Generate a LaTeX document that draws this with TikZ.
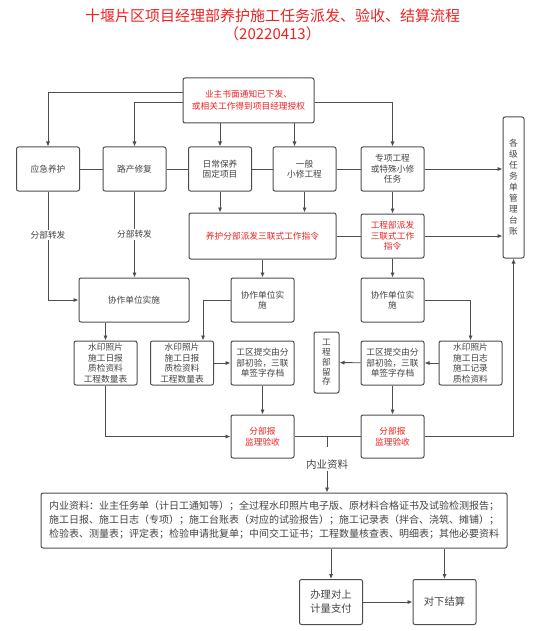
\documentclass[tikz,border=0pt]{standalone}
\usepackage{fontspec}
\setmainfont{Noto Sans CJK SC}
\usetikzlibrary{arrows.meta,positioning,calc}
\definecolor{cRed}{RGB}{238,34,34}
\definecolor{cText}{RGB}{68,68,68}
\definecolor{cLine}{RGB}{78,78,78}
\tikzset{
	fbox/.style={draw=cLine, line width=1pt, rounded corners=2pt,
		fill=white, inner sep=1pt, align=center, text=cText,
		font=\fontsize{8.7}{10.5}\selectfont,
		minimum width=63pt, minimum height=44pt},
	rbox/.style={fbox, text=cRed},
	vbox/.style={fbox, minimum width=21pt,
		font=\fontsize{8.7}{11}\selectfont},
	farr/.style={-{Latex[length=5pt,width=4.2pt]}, line width=0.9pt,
		draw=cLine},
	fline/.style={line width=0.9pt, draw=cLine},
	flabel/.style={fill=white, inner sep=1pt, text=cText,
		font=\fontsize{8.7}{10.5}\selectfont},
}
\begin{document}
\begin{tikzpicture}[x=1pt, y=-1pt]
			\useasboundingbox (0,0) rectangle (537,631);
			\node[text=cRed, align=center, font=\fontsize{15}{18.5}\selectfont] (title) at (272.5,24.8)
				{十堰片区项目经理部养护施工任务派发、验收、结算流程\\（20220413）};
			% top row
			\node[rbox, minimum width=131pt, minimum height=45pt, font=\fontsize{8.7}{11.7}\selectfont] (owner) at (248.5,100.5)
				{业主书面通知已下发、\\或相关工作得到项目经理授权};
			\node[fbox] (yingji) at (48,169) {应急养护};
			\node[fbox] (luchan) at (134.5,169) {路产修复};
			\node[fbox] (richang) at (220,169) {日常保养\\固定项目};
			\node[fbox] (yiban) at (304.5,169) {一般\\小修工程};
			\node[fbox] (zhuanxiang) at (392.5,169) {专项工程\\或特殊小修\\任务};
			\node[vbox, minimum height=141pt] (taizhang) at (513.5,187.5)
				{各\\级\\任\\务\\单\\管\\理\\台\\账};
			% dispatch
			\node[rbox, minimum width=147pt, minimum height=46pt] (yanghu) at (262.5,236) {养护分部派发三联式工作指令};
			\node[rbox] (gcpaifa) at (392.5,236) {工程部派发\\三联式工作\\指令};
			\node[fbox, minimum width=110pt] (xiezuoA) at (134,300) {协作单位实施};
			\node[fbox] (xiezuoB) at (262.5,300) {协作单位实\\施};
			\node[fbox] (xiezuoC) at (392.5,300) {协作单位实\\施};
			% records
			\node[fbox] (shuiyinA) at (105.5,363) {水印照片\\施工日报\\质检资料\\工程数量表};
			\node[fbox] (shuiyinB) at (182,363) {水印照片\\施工日报\\质检资料\\工程数量表};
			\node[fbox] (gongquB) at (262.5,363) {工区提交由分\\部初验，三联\\单签字存档};
			\node[vbox, minimum width=25pt, minimum height=61pt, font=\fontsize{8.7}{9.8}\selectfont] (liucun) at (326.5,362.5)
				{工\\程\\部\\留\\存};
			\node[fbox] (gongquC) at (392.5,363) {工区提交由分\\部初验，三联\\单签字存档};
			\node[fbox] (shuiyinC) at (470.5,363) {水印照片\\施工日志\\施工记录\\质检资料};
			\node[rbox, minimum height=43pt] (fenbuB) at (262.5,436.5) {分部报\\监理验收};
			\node[rbox, minimum height=43pt] (fenbuC) at (392.5,436.5) {分部报\\监理验收};
			% settlement
			\node[flabel, font=\fontsize{10.5}{12}\selectfont] (neiye) at (327,465) {内业资料};
			\node[fbox, align=left, minimum width=466pt, minimum height=55pt, font=\fontsize{10}{14}\selectfont] (ziliao) at (274,520.5)
				{内业资料：业主任务单（计日工通知等）；全过程水印照片电子版、原材料合格证书及试验检测报告；\\
				施工日报、施工日志（专项）；施工台账表（对应的试验报告）；施工记录表（拌合、浇筑、摊铺）；\\
				检验表、测量表；评定表；检验申请批复单；中间交工证书；工程数量核查表、明细表；其他必要资料};
			\node[fbox, minimum height=45pt, font=\fontsize{10.3}{14}\selectfont] (jiliang) at (331,602) {办理对上\\计量支付};
			\node[fbox, minimum height=45pt, font=\fontsize{10.3}{14}\selectfont] (jiesuan) at (444.5,602) {对下结算};
			\coordinate (stub) at (327,447);
			% connectors
			\draw[farr] ([yshift=8.5pt]owner.west) -| (yingji.north);
			\draw[farr] ([yshift=-1.5pt]owner.west) -| (luchan.north);
			\draw[farr] (owner.south -| richang.north) -- (richang.north);
			\draw[farr] ([xshift=-10pt]yiban.north |- owner.south) -- ([xshift=-10pt]yiban.north);
			\draw[farr] ([yshift=-1.5pt]owner.east) -| (zhuanxiang.north);
			\draw[fline] (yingji) -- (luchan);
			\draw[fline] (luchan) -- (richang);
			\draw[fline] (richang) -- (yiban);
			\draw[fline] (yiban) -- (zhuanxiang);
			\draw[farr] (zhuanxiang.east) -- (zhuanxiang.east -| taizhang.west);
			\draw[farr] (yingji.south) |- node[flabel, pos=0.2] {分部转发} (xiezuoA.west);
			\draw[farr] (luchan.south) -- node[flabel] {分部转发} (luchan.south |- xiezuoA.north);
			\draw[farr] (richang.south) -- (richang.south |- yanghu.north);
			\draw[farr] (yiban.south) -- (yiban.south |- yanghu.north);
			\draw[farr] (zhuanxiang.south) -- (gcpaifa.north);
			\draw[fline] (yanghu) -- (gcpaifa);
			\draw[farr] (gcpaifa.east) -- (gcpaifa.east -| taizhang.west);
			\draw[farr] (yanghu.south) -- (xiezuoB.north);
			\draw[farr] (gcpaifa.south) -- (xiezuoC.north);
			\draw[farr] (xiezuoA.south -| shuiyinA.north) -- (shuiyinA.north);
			\draw[farr] (xiezuoB.west) -| ([xshift=21pt]shuiyinB.north);
			\draw[farr] (xiezuoC.east) -| (shuiyinC.north);
			\draw[farr] (shuiyinA.south) |- (fenbuB.west);
			\draw[farr] (shuiyinB) -- (gongquB);
			\draw[farr] (gongquB) -- (fenbuB);
			\draw[farr] (shuiyinC) -- (gongquC);
			\draw[farr] (gongquC) -- (liucun);
			\draw[farr] (gongquC) -- (fenbuC);
			\draw[fline] (fenbuB) -- (fenbuC);
			\draw[farr] (fenbuC.east) -| (taizhang.south);
			\draw[fline] (stub |- fenbuB.east) -- (stub);
			\draw[farr] (neiye.south) -- (neiye.south |- ziliao.north);
			\draw[farr] (ziliao.south -| jiliang.north) -- (jiliang.north);
			\draw[farr] (ziliao.south -| jiesuan.north) -- (jiesuan.north);
			\draw[farr] (jiliang) -- (jiesuan);
		\end{tikzpicture}
\end{document}
